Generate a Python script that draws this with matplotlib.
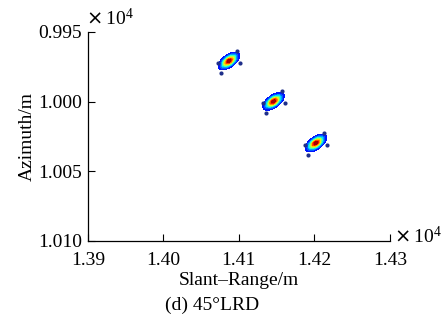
import matplotlib
matplotlib.use("Agg")
import matplotlib.pyplot as plt
import numpy as np

plt.rcParams['font.family'] = ['Liberation Serif', 'DejaVu Serif']

# point target centres (x10^4 m)
target_range = [1.4087, 1.4146, 1.4202]
target_azimuth = [0.99708, 0.99998, 1.00297]
# faint sidelobe dots, offsets from each target centre (x10^4 m)
lobe_dx = [0.00106, -0.00146, 0.00146, -0.00106]
lobe_dy = [-0.00072, 0.00014, 0.00014, 0.00086]

x_ticks = [1.39, 1.40, 1.41, 1.42, 1.43]
y_ticks = [0.995, 1.000, 1.005, 1.010]

fig = plt.figure(figsize=(4.46, 3.20), dpi=100)
ax = fig.add_axes([0.197, 0.247, 0.677, 0.653])

# pixel scale used to shape the blobs like the rendered image
px_x = 0.04 / 302
px_y = 0.015 / 209
ang = np.deg2rad(36)
levels = np.linspace(0.04, 1.0, 14)

for cx, cy in zip(target_range, target_azimuth):
    gx = np.linspace(cx - 18 * px_x, cx + 18 * px_x, 181)
    gy = np.linspace(cy - 16 * px_y, cy + 16 * px_y, 161)
    X, Y = np.meshgrid(gx, gy)
    px = (X - cx) / px_x
    py = -(Y - cy) / px_y
    u = px * np.cos(ang) + py * np.sin(ang)
    v = -px * np.sin(ang) + py * np.cos(ang)
    Z = np.exp(-(u / 7.0) ** 2 - (v / 3.5) ** 2)
    Z = np.ma.masked_less(Z, levels[0])
    ax.contourf(X, Y, Z, levels=levels, cmap='jet', vmin=-0.08, vmax=1.0)
    ax.scatter([cx + d for d in lobe_dx], [cy + d for d in lobe_dy],
               s=9, color='#1f2f8a', linewidths=0, zorder=3)

ax.set_xlim(1.39, 1.43)
ax.set_ylim(1.010, 0.995)
ax.set_xticks(x_ticks)
ax.set_yticks(y_ticks)
ax.set_xticklabels(['%.2f' % t for t in x_ticks])
ax.set_yticklabels(['%.3f' % t for t in y_ticks])
ax.tick_params(direction='in', length=5, width=0.8, labelsize=14)
ax.tick_params(axis='x', pad=8)
ax.tick_params(axis='y', pad=4)
for s in ['top', 'right']:
    ax.spines[s].set_visible(False)
for s in ['left', 'bottom']:
    ax.spines[s].set_linewidth(0.9)

ax.set_xlabel('Slant\u2013Range/m', fontsize=14, labelpad=2)
ax.set_ylabel('Azimuth/m', fontsize=14, labelpad=2)
fig.text(0.475, 0.03, '(d) 45\u00b0LRD', fontsize=14, ha='center')
ax.text(-0.005, 1.015, r'$\times\,\mathregular{10^4}$', transform=ax.transAxes,
        fontsize=14, ha='left', va='bottom')
ax.text(1.015, 0.02, r'$\times\,\mathregular{10^4}$', transform=ax.transAxes,
        fontsize=14, ha='left', va='center')

fig.savefig('out.png', dpi=100)
